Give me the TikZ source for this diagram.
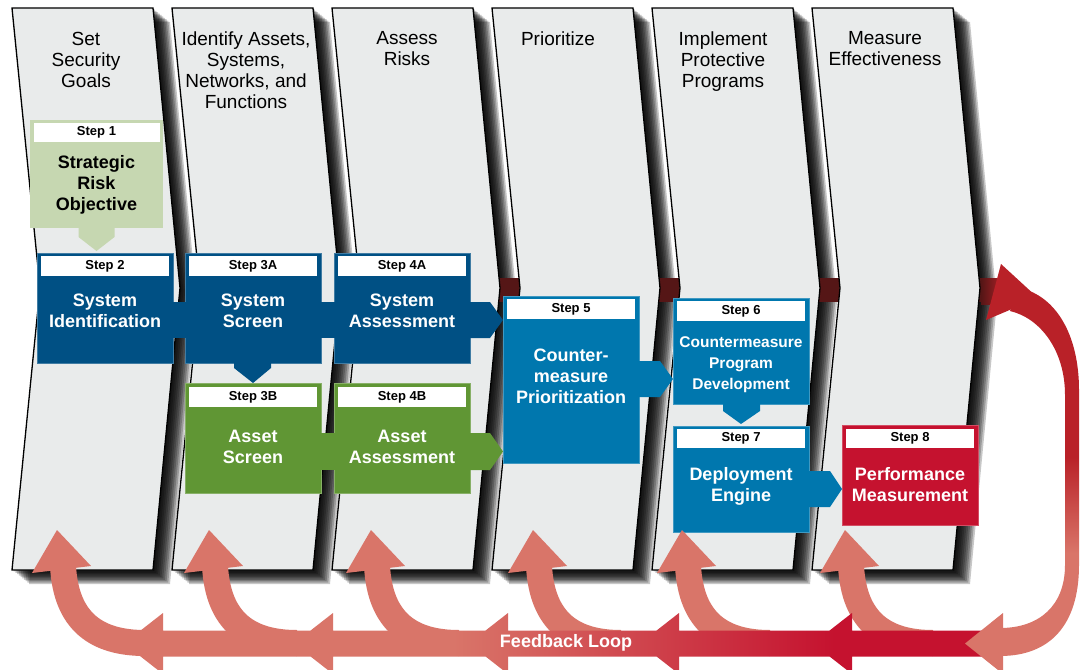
\documentclass[tikz,border=0pt]{standalone}
\usepackage{fontspec}
\setmainfont{Liberation Sans}
\usetikzlibrary{calc}
\definecolor{panelgray}{RGB}{233,235,235}
\definecolor{dblue}{RGB}{0,80,132}
\definecolor{lblue}{RGB}{0,119,174}
\definecolor{stepgreen}{RGB}{96,150,52}
\definecolor{lgreen}{RGB}{198,215,177}
\definecolor{crimson}{RGB}{197,18,47}
\definecolor{salmon}{RGB}{217,117,105}
\definecolor{loopred}{RGB}{185,33,40}
\definecolor{maroon}{RGB}{85,22,22}
\pgfdeclarehorizontalshading{fbshade}{100bp}{color(0bp)=(salmon); color(44bp)=(salmon); color(66bp)=(crimson); color(100bp)=(crimson)}
\pgfdeclareverticalshading{loopshade}{100bp}{color(0bp)=(salmon); color(39bp)=(salmon); color(52bp)=(loopred); color(100bp)=(loopred)}
\begin{document}
\begin{tikzpicture}[x=1pt,y=-1pt,
  panel/.style={fill=panelgray, draw=black, line width=1.3pt, line join=miter},
  box/.style={rectangle, inner sep=0pt, outer sep=0pt, anchor=north west, line width=1pt},
  hdr/.style={rectangle, fill=white, inner sep=0pt, minimum width=128pt, minimum height=20pt, font=\bfseries\fontsize{13}{15}\selectfont, text=black},
  btext/.style={align=center, inner sep=0pt, text=white, font=\bfseries\fontsize{18}{21}\selectfont},
  htext/.style={align=center, inner sep=0pt, text=black, font=\fontsize{19}{21}\selectfont},
  curvearrow/.style={salmon, line width=26pt}
]
\useasboundingbox (0,0) rectangle (1081,669);
\fill[white] (0,0) rectangle (1081,669);

% shadows of the panels
\foreach \xo in {12,172,332,492,652,812}{
  \foreach \k in {1,...,10}{
    \fill[black, opacity=0.22, shift={({1.7*\k},{1.4*\k})}] (\xo,8) -- ++(141,0) -- ++(27,280) -- ++(-27,282) -- ++(-141,0) -- ++(28,-282) -- cycle;
  }
}
% red band behind the panels
\fill[maroon] (480,278) rectangle (984,302);
% panels
\foreach \xo in {12,172,332,492,652,812}{
  \filldraw[panel] (\xo,8) -- ++(141,0) -- ++(27,280) -- ++(-27,282) -- ++(-141,0) -- ++(28,-282) -- cycle;
}

% column headings
\node[htext] (h1) at (86,59.5) {Set\\Security\\Goals};
\node[htext] (h2) at (246,70) {Identify Assets,\\Systems,\\Networks, and\\Functions};
\node[htext] (h3) at (407,49) {Assess\\Risks};
\node[htext] (h4) at (558,39) {Prioritize};
\node[htext] (h5) at (723,61.5) {Implement\\Protective\\Programs};
\node[htext] (h6) at (885,49) {Measure\\Effectiveness};

% band leaving the last panel
\shade[left color=maroon, right color=loopred] (981,278) rectangle (1006,304);

% Step 1
\node[box, fill=lgreen, minimum width=133pt, minimum height=108pt] (s1) at (30,120) {};
\fill[lgreen] ($(s1.south)+(-18,-1)$) -- ($(s1.south)+(18,-1)$) -- ($(s1.south)+(18,9)$) -- ($(s1.south)+(0,23)$) -- ($(s1.south)+(-18,9)$) -- cycle;
\node[hdr, minimum width=126pt, minimum height=19pt] (s1h) at ($(s1.north)+(0,12.5)$) {Step 1};
\node[btext, text=black] (s1t) at (96.5,185) {Strategic\\Risk\\Objective};

% boxes
\node[box, fill=dblue, draw=dblue!75!white, minimum width=136pt, minimum height=110pt] (s2) at (37,253) {};
\node[box, fill=dblue, draw=dblue!75!white, minimum width=136pt, minimum height=110pt] (s3a) at (185,253) {};
\node[box, fill=dblue, draw=dblue!75!white, minimum width=136pt, minimum height=110pt] (s4a) at (334,253) {};
\node[box, fill=stepgreen, draw=stepgreen!75!white, minimum width=136pt, minimum height=110pt] (s3b) at (185,383) {};
\node[box, fill=stepgreen, draw=stepgreen!75!white, minimum width=136pt, minimum height=110pt] (s4b) at (334,383) {};
\node[box, fill=lblue, draw=lblue!75!white, minimum width=136pt, minimum height=167pt] (s5) at (503,296) {};
\node[box, fill=lblue, draw=lblue!75!white, minimum width=136pt, minimum height=106pt] (s6) at (673,298) {};
\node[box, fill=lblue, draw=lblue!75!white, minimum width=136pt, minimum height=106pt] (s7) at (673,426) {};
\node[box, fill=crimson, draw=crimson!75!white, minimum width=136pt, minimum height=100pt] (s8) at (842,425) {};

% connectors between boxes
\fill[dblue] ($(s2.north east)+(-1,49)$) rectangle ($(s3a.north west)+(1,85)$);
\fill[dblue] ($(s3a.north east)+(-1,49)$) rectangle ($(s4a.north west)+(1,85)$);
\fill[stepgreen] ($(s3b.north east)+(-1,50)$) rectangle ($(s4b.north west)+(1,87)$);
\fill[dblue] ($(s4a.north east)+(-1,49)$) -- ($(s4a.north east)+(20,49)$) -- ($(s5.west |- s4a.north)+(0,67)$) -- ($(s4a.north east)+(20,85)$) -- ($(s4a.north east)+(-1,85)$) -- cycle;
\fill[stepgreen] ($(s4b.north east)+(-1,50)$) -- ($(s4b.north east)+(20,50)$) -- ($(s5.west |- s4b.north)+(0,68.5)$) -- ($(s4b.north east)+(20,87)$) -- ($(s4b.north east)+(-1,87)$) -- cycle;
\fill[lblue] ($(s5.north east)+(-1,65)$) -- ($(s5.north east)+(21,65)$) -- ($(s6.west |- s5.north)+(0,83)$) -- ($(s5.north east)+(21,101)$) -- ($(s5.north east)+(-1,101)$) -- cycle;
\fill[lblue] ($(s7.north east)+(-1,45)$) -- ($(s7.north east)+(21,45)$) -- ($(s8.west |- s7.north)+(0,63)$) -- ($(s7.north east)+(21,81)$) -- ($(s7.north east)+(-1,81)$) -- cycle;
\fill[dblue] ($(s3a.south)+(-19,-1)$) -- ($(s3a.south)+(18,-1)$) -- ($(s3a.south)+(18,5)$) -- (s3b.north) -- ($(s3a.south)+(-19,5)$) -- cycle;
\fill[lblue] ($(s6.south)+(-18,-1)$) -- ($(s6.south)+(19,-1)$) -- ($(s6.south)+(19,7)$) -- ($(s7.north)+(0,-2)$) -- ($(s6.south)+(-18,7)$) -- cycle;

% step headers
\node[hdr] (s2h) at ($(s2.north)+(0,13)$) {Step 2};
\node[hdr] (s3ah) at ($(s3a.north)+(0,13)$) {Step 3A};
\node[hdr] (s4ah) at ($(s4a.north)+(0,13)$) {Step 4A};
\node[hdr] (s3bh) at ($(s3b.north)+(0,14)$) {Step 3B};
\node[hdr] (s4bh) at ($(s4b.north)+(0,14)$) {Step 4B};
\node[hdr] (s5h) at ($(s5.north)+(0,13)$) {Step 5};
\node[hdr] (s6h) at ($(s6.north)+(0,13)$) {Step 6};
\node[hdr, minimum height=19pt] (s7h) at ($(s7.north)+(0,12.5)$) {Step 7};
\node[hdr, minimum height=19pt] (s8h) at ($(s8.north)+(0,13.5)$) {Step 8};

% box texts
\node[btext] (s2t) at (105,310.4) {System\\Identification};
\node[btext] (s3at) at (253,310.4) {System\\Screen};
\node[btext] (s4at) at (402,310.4) {System\\Assessment};
\node[btext] (s3bt) at (253,446.4) {Asset\\Screen};
\node[btext] (s4bt) at (402,446.4) {Asset\\Assessment};
\node[btext] (s5t) at (571,376) {Counter-\\measure\\Prioritization};
\node[btext, font=\bfseries\fontsize{15.5}{21}\selectfont] (s6t) at (741,364.6) {Countermeasure\\Program\\Development};
\node[btext] (s7t) at (741,486.4) {Deployment\\Engine};
\node[btext] (s8t) at (910,484.4) {Performance\\Measurement};

% curved feedback arrows into each column
\foreach \tx in {57,209,371,533,682,845}{
  \draw[curvearrow] (\tx+6,566) .. controls (\tx+9,622) and (\tx+40,643) .. (\tx+88,643);
  \fill[salmon] (\tx,530) -- (\tx+34,566) -- (\tx-25,573) -- cycle;
}

% feedback band with arrowheads
\shade[shading=fbshade] (124,643.5) -- (163,613) -- (163,630.5) -- (310.6,630.5) -- (333,613) -- (333,630.5) -- (485.6,630.5) -- (508,613) -- (508,630.5) -- (656.6,630.5) -- (679,613) -- (679,630.5) -- (829.6,630.5) -- (852,613) -- (852,630.5) -- (990,630.5) -- (990,656.5) -- (852,656.5) -- (852,674) -- (829.6,656.5) -- (679,656.5) -- (679,674) -- (656.6,656.5) -- (508,656.5) -- (508,674) -- (485.6,656.5) -- (333,656.5) -- (333,674) -- (310.6,656.5) -- (163,656.5) -- (163,674) -- cycle;

% right-hand loop
\shade[shading=loopshade] (1020,288) .. controls (1056,296) and (1079,335) .. (1079,390) -- (1079,565) .. controls (1079,625) and (1050,656) .. (1000,656) -- (1000,628) .. controls (1040,628) and (1065,605) .. (1065,565) -- (1065,395) .. controls (1065,350) and (1040,318) .. (1010,311) -- cycle;
\fill[loopred] (1001,264) -- (1038,298) -- (986,320) -- cycle;
\fill[salmon] (1003,613) -- (1003,674) -- (965,643.5) -- cycle;

\node[font=\bfseries\fontsize{18}{21}\selectfont, text=white, inner sep=0pt] (fbl) at (566,643) {Feedback Loop};
\end{tikzpicture}
\end{document}
